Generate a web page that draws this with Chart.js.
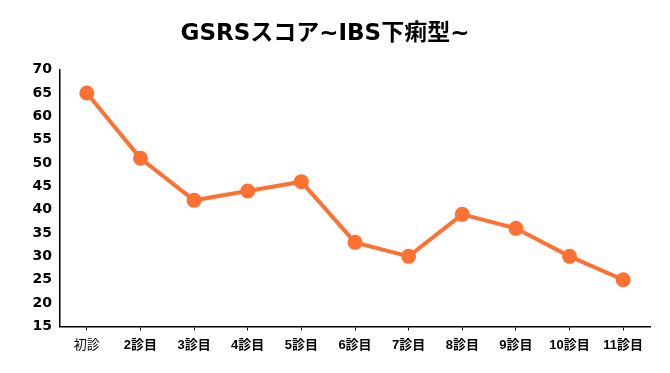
<!DOCTYPE html>
<html><head><meta charset="utf-8">
<script src="https://cdn.jsdelivr.net/npm/chart.js@4/dist/chart.umd.min.js"></script>
<style>html,body{margin:0;padding:0;background:#fff;}#wrap{width:670px;height:373px;}</style>
</head><body><div id="wrap"><canvas id="c" width="670" height="373"></canvas></div>
<script>
const chartTitle = 'GSRSスコア~IBS下痢型~';
const categories = ['初診','2診目','3診目','4診目','5診目','6診目','7診目','8診目','9診目','10診目','11診目'];
const scores = [65, 51, 42, 44, 46, 33, 30, 39, 36, 30, 25];
const yMin = 15, yMax = 70, yStep = 5;

new Chart(document.getElementById('c'), {
  type: 'line',
  data: {
    labels: categories,
    datasets: [{
      label: 'GSRS',
      data: scores,
      borderColor: '#FF7033',
      backgroundColor: '#FF7033',
      borderWidth: 4,
      pointRadius: 5.5,
      pointHoverRadius: 5.5,
      tension: 0,
      fill: false
    }]
  },
  options: {
    responsive: false,
    animation: false,
    devicePixelRatio: 1,
    layout: { padding: { left: 0, right: 20, top: 10, bottom: 13 } },
    plugins: {
      legend: { display: false },
      tooltip: { enabled: false },
      title: {
        display: true,
        text: chartTitle,
        color: '#000',
        font: { family: '"DejaVu Sans", "Noto Sans CJK JP", sans-serif', size: 23, weight: 'bold' },
        padding: { top: 10, bottom: 22 }
      }
    },
    scales: {
      x: {
        offset: true,
        grid: { display: true, drawOnChartArea: false, drawTicks: true, tickLength: 4, offset: false, color: '#000' },
        border: { display: true, color: '#000', width: 1.5 },
        ticks: {
          color: '#000',
          padding: 7,
          maxRotation: 0,
          autoSkip: false,
          font: (ctx) => ({ family: '"Liberation Sans", "Noto Sans CJK JP", sans-serif', size: 13, weight: ctx.index === 0 ? 'normal' : 'bold' })
        }
      },
      y: {
        min: yMin, max: yMax,
        afterFit: (s) => { s.width = 60; },
        grid: { display: false, drawTicks: false },
        border: { display: true, color: '#000', width: 1.5 },
        ticks: {
          stepSize: yStep,
          color: '#000',
          padding: 8,
          font: { family: '"DejaVu Sans", sans-serif', size: 14, weight: 'bold' }
        }
      }
    }
  }
});
</script></body></html>
